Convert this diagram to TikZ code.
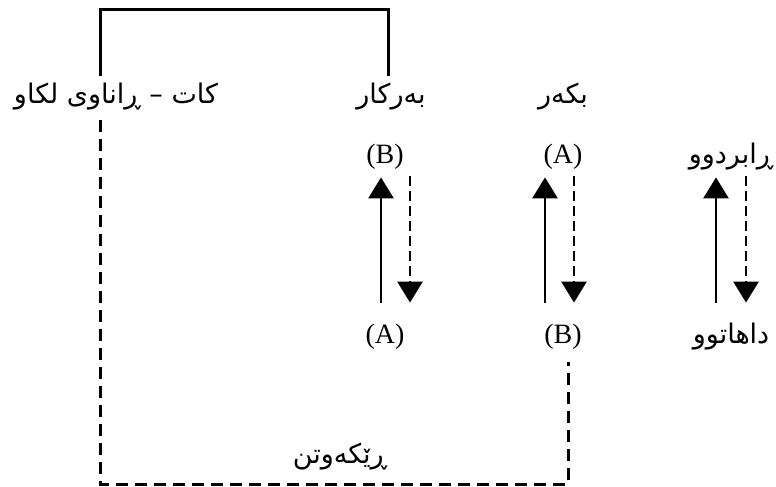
\documentclass[tikz,border=0pt]{standalone}
\usepackage{fontspec}
\setmainfont{Liberation Serif}
\newfontfamily\kurdfont[Script=Arabic]{DejaVu Sans}
\TeXXeTstate=1
\usetikzlibrary{arrows.meta}

\begin{document}
\begin{tikzpicture}[x=0.5pt, y=-0.5pt,
    lbl/.style={font=\fontsize{14}{16}\selectfont, inner sep=0pt,
                text height=9pt, text depth=3pt},
    ku/.style={font=\kurdfont\fontsize{13.5}{16}\selectfont, inner sep=0pt,
               text height=9pt, text depth=3pt},
    link/.style={line width=1.5pt},
    dlink/.style={line width=1.5pt, dash pattern=on 6pt off 3.5pt},
    uparr/.style={line width=1.4pt, -{Triangle[width=12.5pt, length=10.5pt]}},
    downarr/.style={uparr, dash pattern=on 5pt off 2.5pt}
]
\useasboundingbox (0,0) rectangle (776,487);

% top row
\node[ku] (tense) at (116,97) {\beginR کات – ڕاناوی لکاو\endR};
\node[ku] (object) at (391,97) {\beginR بەرکار\endR};
\node[ku] (subject) at (563,97) {\beginR بکەر\endR};

% middle rows
\node[lbl] (objB) at (385,157) {(B)};
\node[lbl] (subjA) at (563,157) {(A)};
\node[ku] (past) at (731,157) {\beginR ڕابردوو\endR};
\node[lbl] (objA) at (385,337) {(A)};
\node[lbl] (subjB) at (563,337) {(B)};
\node[ku] (future) at (731,337) {\beginR داهاتوو\endR};

\node[ku] (agree) at (340,457) {\beginR ڕێکەوتن\endR};

% bracket over the top labels
\coordinate (brL) at (100,76);
\coordinate (brR) at (388,76);
\draw[link] (brL) -- ++(0,-67) -| (brR);

% dashed agreement line
\coordinate (agL) at (100,120);
\coordinate (agR) at (568,362);
\draw[dlink] (agL) -- ++(0,364) -| (agR);

% arrow pairs
\draw[uparr] ([xshift=-2pt, yshift=11pt]objA.north) -- ([xshift=-2pt, yshift=-4pt]objB.south);
\draw[downarr] ([xshift=12.5pt, yshift=-3.5pt]objB.south) -- ([xshift=12.5pt, yshift=11pt]objA.north);
\draw[uparr] ([xshift=-9pt, yshift=11pt]subjB.north) -- ([xshift=-9pt, yshift=-4pt]subjA.south);
\draw[downarr] ([xshift=5.5pt, yshift=-3.5pt]subjA.south) -- ([xshift=5.5pt, yshift=11pt]subjB.north);
\draw[uparr] ([xshift=-7.5pt, yshift=11pt]future.north) -- ([xshift=-7.5pt, yshift=-4pt]past.south);
\draw[downarr] ([xshift=7.5pt, yshift=-3.5pt]past.south) -- ([xshift=7.5pt, yshift=11pt]future.north);

\end{tikzpicture}
\end{document}
